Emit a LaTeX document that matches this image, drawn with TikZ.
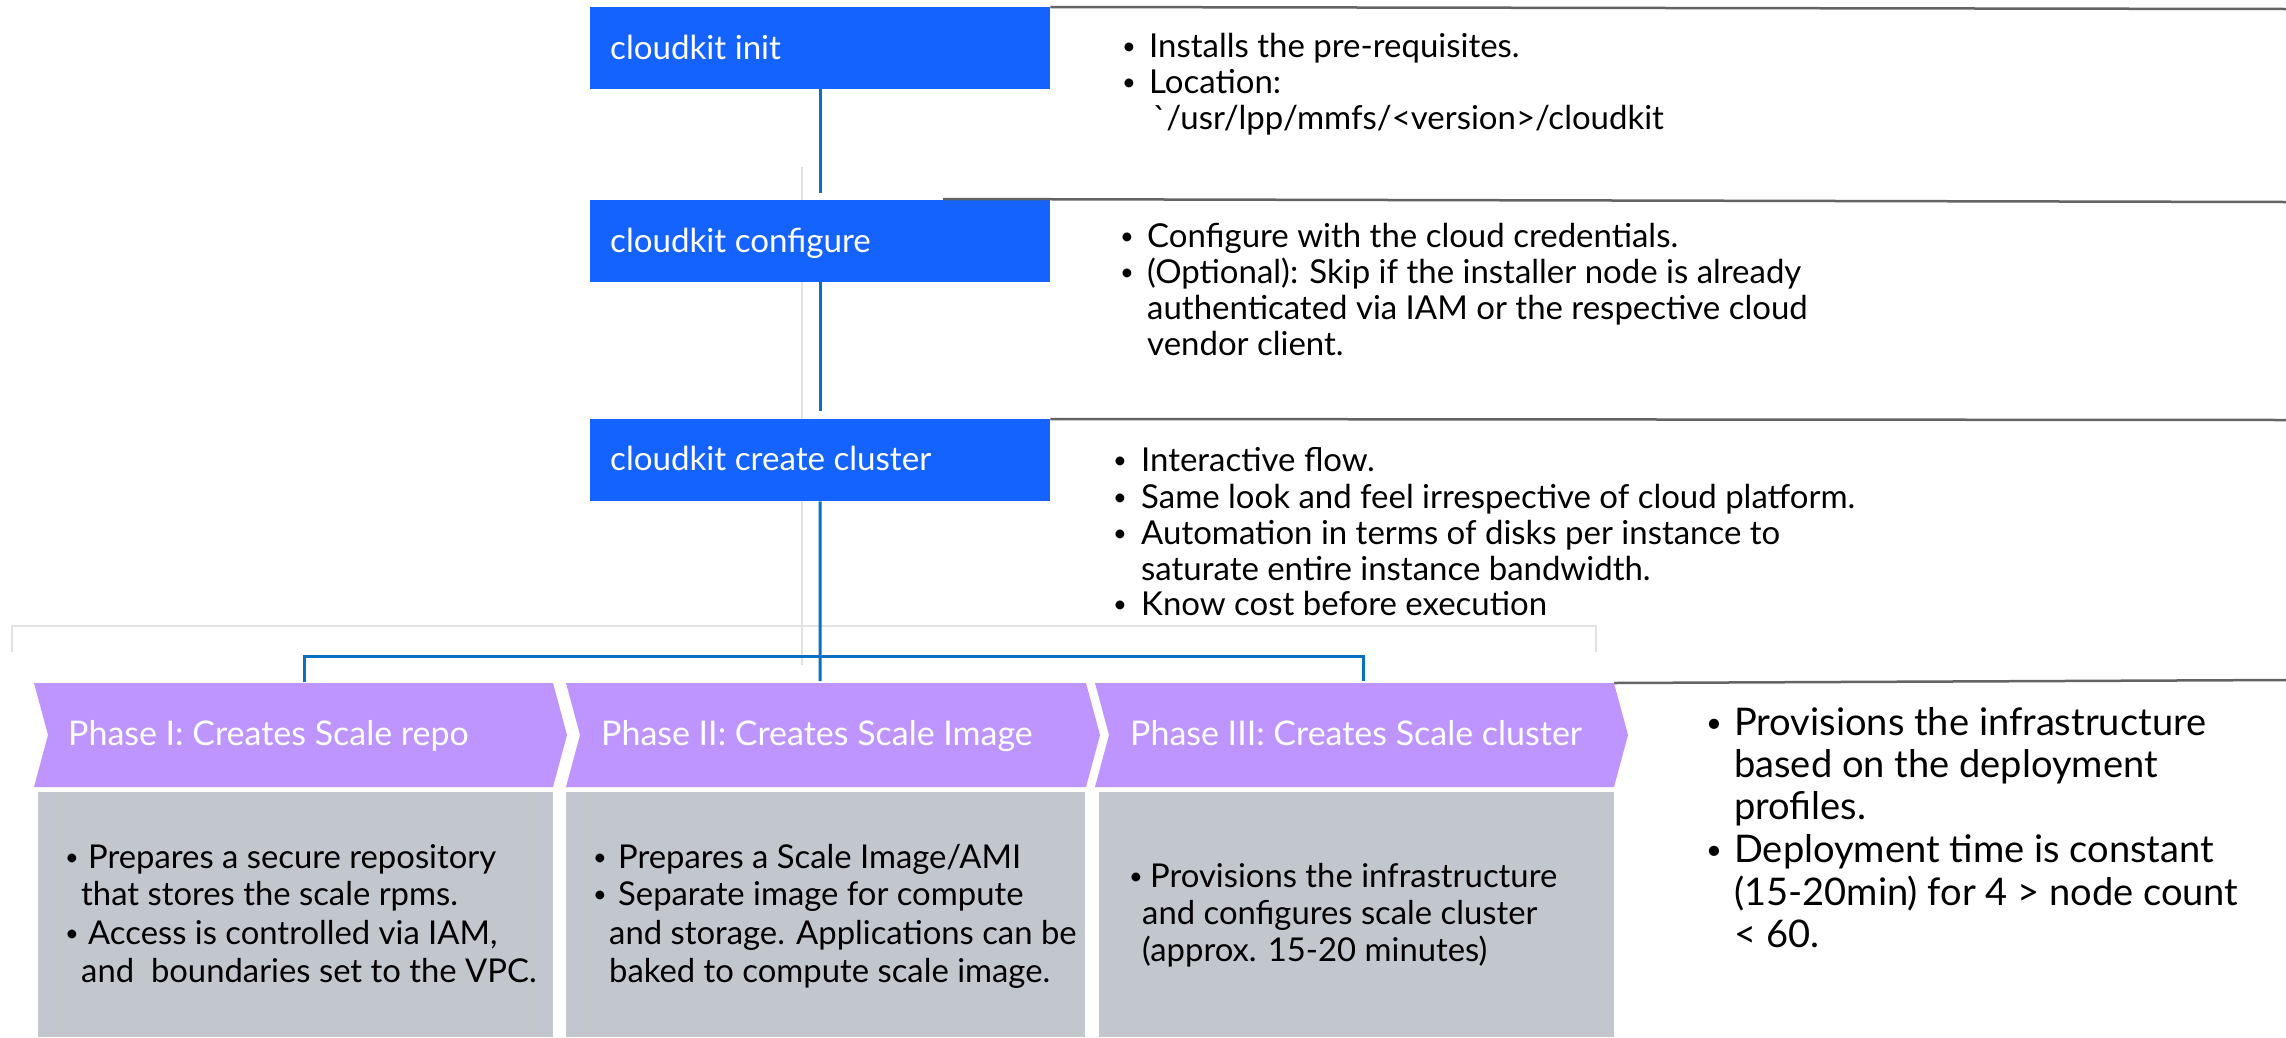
\documentclass[tikz,border=0pt]{standalone}
\usepackage{fontspec}
\setmainfont{Lato}[Ligatures=TeXOff]
\definecolor{ckblue}{RGB}{21,99,255}
\definecolor{ckpurple}{RGB}{190,149,255}
\definecolor{ckgray}{RGB}{193,199,205}
\definecolor{ckline}{RGB}{10,113,194}
\definecolor{ckrule}{RGB}{100,100,100}
\definecolor{ckfaint}{RGB}{226,226,226}
\newlength\fitw
\newcommand\fitfont[3]{\settowidth\fitw{\normalfont\fontsize{20}{24}\selectfont #3}\pgfmathsetmacro#1{20*#2/\fitw}}
\newcommand\smbul{\raisebox{0.07em}{\scalebox{0.72}{\textbullet}}}
\tikzset{
  cmdbox/.style={fill=ckblue, draw=none, minimum width=460, minimum height=82, inner sep=0pt, anchor=north west},
  txt/.style={anchor=base west, inner sep=0pt},
  bul/.style={anchor=base, inner sep=0pt},
  fB/.style={font=\fontsize{\szB}{\szB}\selectfont},
  fR/.style={font=\fontsize{\szR}{\szR}\selectfont},
  fG/.style={font=\fontsize{\szG}{\szG}\selectfont},
  fC/.style={font=\fontsize{\szC}{\szC}\selectfont, text=white},
  fK/.style={font=\fontsize{\szK}{\szK}\selectfont, text=white},
  conn/.style={draw=ckline, line width=3pt},
  rulel/.style={draw=ckrule, line width=2.5pt},
  faint/.style={draw=ckfaint, line width=1.5pt},
  chev/.style={fill=ckpurple},
  grayb/.style={fill=ckgray}
}
\AtBeginDocument{%
\fitfont\szB{714}{Same look and feel irrespective of cloud platform.}%
\fitfont\szR{472}{Provisions the infrastructure}%
\fitfont\szG{407}{Provisions the infrastructure}%
\fitfont\szC{452}{Phase III: Creates Scale cluster}%
\fitfont\szK{321}{cloudkit create cluster}%
}
\begin{document}
\begin{tikzpicture}[x=1pt,y=-1pt]
\useasboundingbox[fill=white] (0,0) rectangle (2286,1037);

% faint guide lines
\draw[faint] (802,167) -- (802,665);
\draw[faint] (12,652) -- (12,626) -- (1596,626) -- (1596,652);

% command boxes
\node[cmdbox] (init) at (590,7) {};
\node[cmdbox] (conf) at (590,200) {};
\node[cmdbox] (create) at (590,419) {};
\node[txt,fK] (initT) at (610,59) {cloudkit init};
\node[txt,fK] (confT) at (610,252) {cloudkit configure};
\node[txt,fK] (createT) at (610,470) {cloudkit create cluster};

% separator rules
\draw[rulel] (init.north east) -- (2286,9);
\draw[rulel] (943,199) -- (2286,202);
\draw[rulel] (create.north east) -- (2286,420);
\draw[rulel] (1614,683) -- (2286,680);

% chevrons
\fill[chev] (34,683) -- (553,683) -- (567,735) -- (553,787) -- (34,787) -- (48,735) -- cycle;
\fill[chev] (566,683) -- (1086,683) -- (1100,735) -- (1086,787) -- (566,787) -- (580,735) -- cycle;
\fill[chev] (1095,683) -- (1614,683) -- (1628,735) -- (1614,787) -- (1095,787) -- (1109,735) -- cycle;
\node[txt,fC] (ph1) at (68,745) {Phase I: Creates Scale repo};
\node[txt,fC] (ph2) at (601,745) {Phase II: Creates Scale Image};
\node[txt,fC] (ph3) at (1130,745) {Phase III: Creates Scale cluster};

% gray boxes
\fill[grayb] (38,792) rectangle (553,1037);
\fill[grayb] (566,792) rectangle (1085,1037);
\fill[grayb] (1099,792) rectangle (1614,1037);

% connectors
\coordinate (p1top) at (304,682);
\coordinate (p2top) at (820,681);
\coordinate (p3top) at (1363,681);
\coordinate (j1) at (304,656);
\coordinate (j3) at (1363,656);
\draw[conn] (init.south) -- ([yshift=7pt]conf.north);
\draw[conn] (conf.south) -- ([yshift=8pt]create.north);
\draw[conn] (create.south) -- (p2top);
\draw[conn] (p1top) -- (j1) -- (j3) -- (p3top);

% block 1
\node[bul,fB] (b1a) at (1129,57) {\smbul};
\node[txt,fB] (t1a) at (1149,57) {Installs the pre-requisites.};
\node[bul,fB] (b1b) at (1129,93) {\smbul};
\node[txt,fB] (t1b) at (1149,93) {Location:};
\node[txt,fB] (t1c) at (1153,129) {`/usr/lpp/mmfs/<version>/cloudkit};

% block 2
\node[bul,fB] (b2a) at (1127,247) {\smbul};
\node[txt,fB] (t2a) at (1147,247) {Configure with the cloud credentials.};
\node[bul,fB] (b2b) at (1127,283) {\smbul};
\node[txt,fB] (t2b) at (1147,283) {(Optional): Skip if the installer node is already};
\node[txt,fB] (t2c) at (1147,319) {authenticated via IAM or the respective cloud};
\node[txt,fB] (t2d) at (1147,355) {vendor client.};

% block 3
\node[bul,fB] (b3a) at (1120,471) {\smbul};
\node[txt,fB] (t3a) at (1141,471) {Interactive flow.};
\node[bul,fB] (b3b) at (1120,508) {\smbul};
\node[txt,fB] (t3b) at (1141,508) {Same look and feel irrespective of cloud platform.};
\node[bul,fB] (b3c) at (1120,544) {\smbul};
\node[txt,fB] (t3c) at (1141,544) {Automation in terms of disks per instance to};
\node[txt,fB] (t3d) at (1141,580) {saturate entire instance bandwidth.};
\node[bul,fB] (b3e) at (1120,615) {\smbul};
\node[txt,fB] (t3e) at (1141,615) {Know cost before execution};

% right big block
\node[bul,fR] (b4a) at (1714,735) {\smbul};
\node[txt,fR] (t4a) at (1734,735) {Provisions the infrastructure};
\node[txt,fR] (t4b) at (1734,777) {based on the deployment};
\node[txt,fR] (t4c) at (1734,819) {profiles.};
\node[bul,fR] (b4d) at (1714,862) {\smbul};
\node[txt,fR] (t4d) at (1734,862) {Deployment time is constant};
\node[txt,fR] (t4e) at (1734,905) {(15-20min) for 4 > node count};
\node[txt,fR] (t4f) at (1734,947) {< 60.};

% gray box 1
\node[bul,fG] (g1ab) at (72,868) {\smbul};
\node[txt,fG] (g1a) at (88,868) {Prepares a secure repository};
\node[txt,fG] (g1b) at (81,905) {that stores the scale rpms.};
\node[bul,fG] (g1cb) at (72,944) {\smbul};
\node[txt,fG] (g1c) at (88,944) {Access is controlled via IAM,};
\node[txt,fG] (g1d) at (81,982) {and\ \ boundaries set to the VPC.};

% gray box 2
\node[bul,fG] (g2ab) at (600,868) {\smbul};
\node[txt,fG] (g2a) at (618,868) {Prepares a Scale Image/AMI};
\node[bul,fG] (g2bb) at (600,905) {\smbul};
\node[txt,fG] (g2b) at (618,905) {Separate image for compute};
\node[txt,fG] (g2c) at (609,944) {and storage. Applications can be};
\node[txt,fG] (g2d) at (609,982) {baked to compute scale image.};

% gray box 3
\node[bul,fG] (g3ab) at (1136,887) {\smbul};
\node[txt,fG] (g3a) at (1150,887) {Provisions the infrastructure};
\node[txt,fG] (g3b) at (1142,924) {and configures scale cluster};
\node[txt,fG] (g3c) at (1142,961) {(approx. 15-20 minutes)};
\end{tikzpicture}
\end{document}
